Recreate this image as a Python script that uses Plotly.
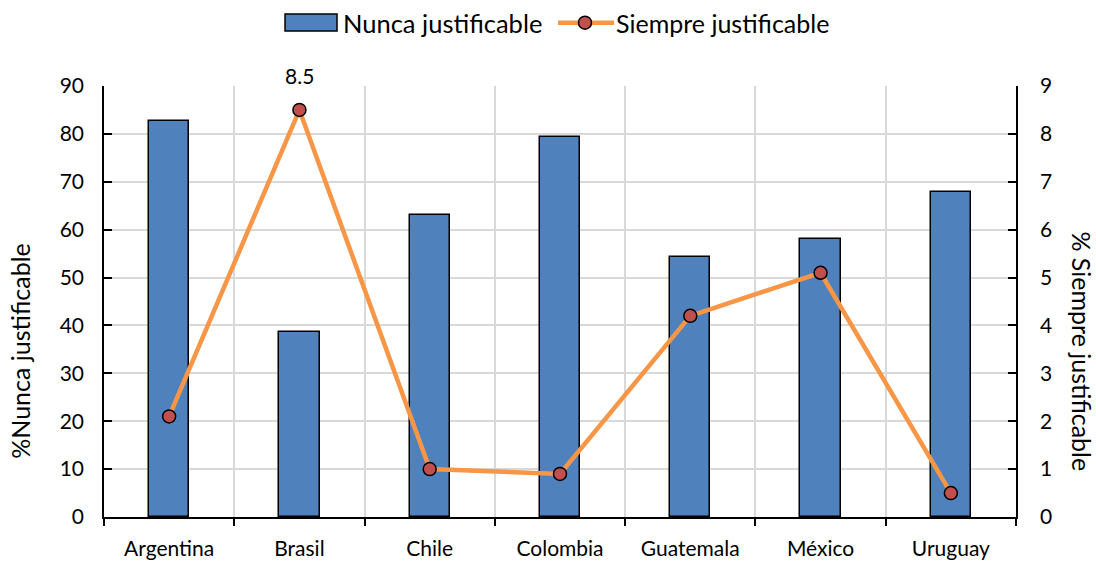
import plotly.graph_objects as go

# Country categories and the two measures
paises = ["Argentina", "Brasil", "Chile", "Colombia", "Guatemala", "México", "Uruguay"]
nunca_justificable = [82.7, 38.7, 63.1, 79.4, 54.2, 58.0, 67.8]
siempre_justificable = [2.1, 8.5, 1.0, 0.9, 4.2, 5.1, 0.5]
left_ticks = [0, 10, 20, 30, 40, 50, 60, 70, 80, 90]
right_ticks = [0, 1, 2, 3, 4, 5, 6, 7, 8, 9]

FONT = "Lato, Carlito, Calibri, sans-serif"
BAR_COLOR = "#4f81bd"
LINE_COLOR = "#f79646"
MARKER_COLOR = "#c0504d"
x_pos = list(range(len(paises)))

fig = go.Figure()

fig.add_trace(go.Bar(
    x=x_pos, y=nunca_justificable, name="Nunca justificable",
    width=0.31, showlegend=False,
    marker=dict(color=BAR_COLOR, line=dict(color="black", width=1.5)),
    yaxis="y",
))

fig.add_trace(go.Scatter(
    x=x_pos, y=siempre_justificable, name="Siempre justificable",
    mode="lines+markers", showlegend=False,
    line=dict(color=LINE_COLOR, width=4.5),
    marker=dict(color=MARKER_COLOR, size=13, line=dict(color="black", width=1.5)),
    yaxis="y2",
))

# value label on the highest point of the line
i_max = siempre_justificable.index(max(siempre_justificable))
annotations = [
    dict(x=x_pos[i_max], y=siempre_justificable[i_max], xref="x", yref="y2",
         text=f"{siempre_justificable[i_max]:.1f}", showarrow=False,
         yanchor="bottom", yshift=20, font=dict(size=21, family=FONT)),
    dict(text="%Nunca justificable", xref="paper", yref="paper",
         x=-0.092, y=0.386, xanchor="center", yanchor="middle",
         textangle=-90, showarrow=False, font=dict(size=25, family=FONT)),
    dict(text="% Siempre justificable", xref="paper", yref="paper",
         x=1.072, y=0.385, xanchor="center", yanchor="middle",
         textangle=90, showarrow=False, font=dict(size=25, family=FONT)),
    # legend labels
    dict(text="Nunca justificable", xref="paper", yref="paper",
         x=0.2600, y=1.1473, xanchor="left", yanchor="middle",
         showarrow=False, font=dict(size=25.5, family=FONT)),
    dict(text="Siempre justificable", xref="paper", yref="paper",
         x=0.5595, y=1.1473, xanchor="left", yanchor="middle",
         showarrow=False, font=dict(size=25, family=FONT)),
]

# legend keys
shapes = [
    dict(type="rect", xref="paper", yref="paper",
         x0=0.1985, x1=0.2555, y0=1.1276, y1=1.1671,
         fillcolor=BAR_COLOR, line=dict(color="black", width=1.5)),
    dict(type="line", xref="paper", yref="paper",
         x0=0.4978, x1=0.5592, y0=1.1470, y1=1.1470,
         line=dict(color=LINE_COLOR, width=4.5)),
    dict(type="circle", xref="paper", yref="paper",
         x0=0.5274 - 0.0071, x1=0.5274 + 0.0071,
         y0=1.1470 - 0.0151, y1=1.1470 + 0.0151,
         fillcolor=MARKER_COLOR, line=dict(color="black", width=1.5)),
]

fig.update_layout(
    width=1096, height=561,
    margin=dict(l=104, r=80, t=86, b=44),
    paper_bgcolor="white", plot_bgcolor="white",
    font=dict(family=FONT, size=21, color="black"),
    bargap=0,
    showlegend=False,
    xaxis=dict(
        range=[-0.5, len(paises) - 0.5], automargin=False,
        tickmode="array", tickvals=x_pos, ticktext=paises,
        ticks="", showgrid=False, zeroline=False,
        showline=True, linecolor="black", linewidth=1.5,
        tickfont=dict(size=21), ticklabelstandoff=12,
        minor=dict(tick0=0.5, dtick=1, ticks="outside", ticklen=7,
                   tickcolor="black", tickwidth=1.5,
                   showgrid=True, gridcolor="#d9d9d9", gridwidth=1.5),
    ),
    yaxis=dict(
        range=[0, 90], tickvals=left_ticks, automargin=False,
        ticks="inside", ticklen=8, tickcolor="black", tickwidth=1.5,
        showline=True, linecolor="black", linewidth=1.5,
        showgrid=True, gridcolor="#d9d9d9", gridwidth=1.5,
        zeroline=False, tickfont=dict(size=21), ticklabelstandoff=14,
    ),
    yaxis2=dict(
        range=[0, 9], tickvals=right_ticks, overlaying="y", side="right",
        automargin=False,
        ticks="inside", ticklen=8, tickcolor="black", tickwidth=1.5,
        showline=True, linecolor="black", linewidth=1.5,
        showgrid=False, zeroline=False, tickfont=dict(size=21),
        ticklabelstandoff=18,
    ),
    annotations=annotations,
    shapes=shapes,
)

fig.write_html("out.html")
